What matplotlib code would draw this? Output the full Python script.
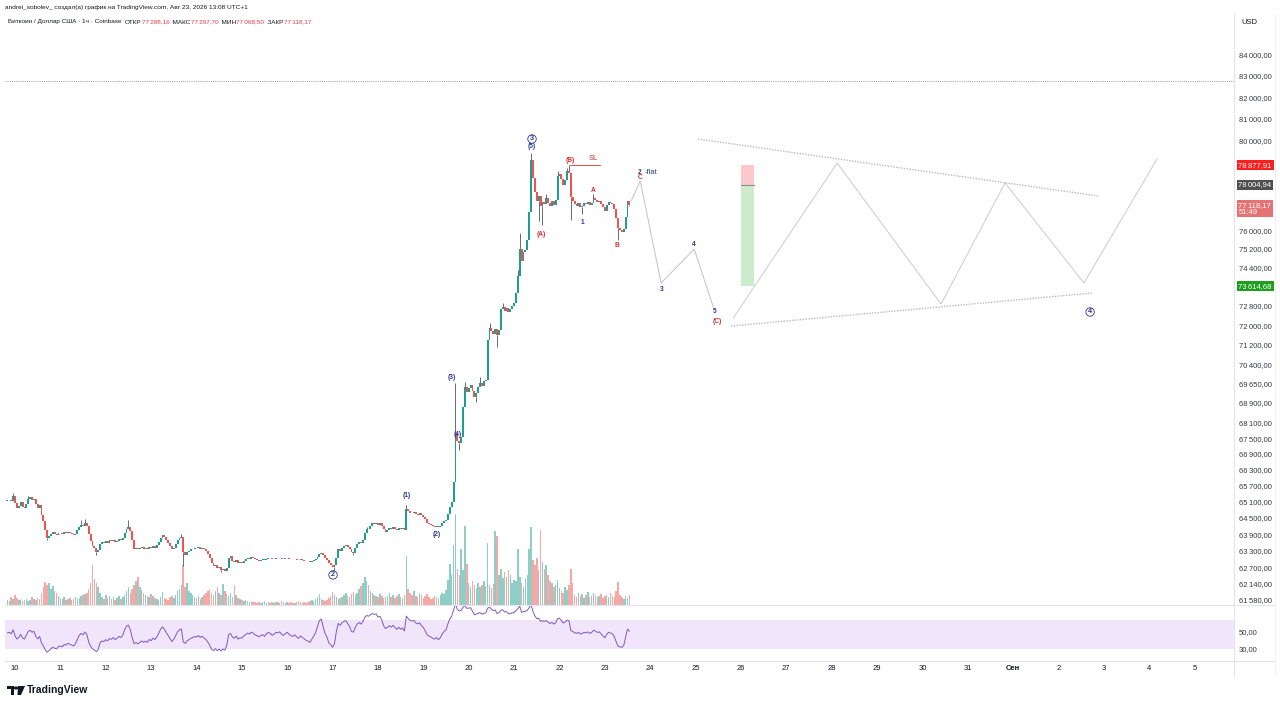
import matplotlib
matplotlib.use('Agg')
import matplotlib.pyplot as plt
import matplotlib.transforms as mtransforms
from matplotlib.lines import Line2D
from matplotlib.patches import Polygon, Circle
from matplotlib.ticker import FixedLocator, FixedFormatter, NullLocator
import numpy as np

plt.rcParams['font.family'] = ['Liberation Sans', 'DejaVu Sans']

W, H = 1280, 706

# ---- hourly BTC/USD candles, first one is Aug 9 20:00 ----
first_hour = -4          # hours from Aug 10 00:00
first_open = 65120.0
closes = [
    65150, 65180, 65120, 65300,                                   # Aug 9
    65050, 64880, 64950, 65080, 64900, 64850, 65020, 65200, 65260, 65180, 65220, 65000,
    64880, 64980, 64620, 64380, 64050, 63780, 63850, 63920, 63980, 63900, 63860, 63940,   # Aug 10
    63960, 63900, 63980, 63940, 64000, 63950, 63900, 63860, 63920, 64050, 64180, 64250,
    64200, 64300, 64220, 63900, 63650, 63480, 63400, 63250, 63320, 63550, 63620, 63580,   # Aug 11
    63650, 63600, 63680, 63640, 63700, 63620, 63660, 63720, 63680, 63750, 63950, 64100,
    64150, 64020, 63700, 63380, 63420, 63350, 63400, 63450, 63380, 63420, 63360, 63450,   # Aug 12
    63400, 63480, 63420, 63500, 63620, 63780, 63880, 63820, 63700, 63600, 63480, 63350,
    63420, 63550, 63700, 63780, 63820, 63250, 63150, 63250, 63300, 63350, 63380, 63420,   # Aug 13
    63400, 63450, 63380, 63420, 63350, 63300, 63200, 63050, 62850, 62750, 62800, 62680,
    62720, 62600, 62650, 62580, 62700, 63050, 63100, 62950, 62900, 62980, 62850, 62900,   # Aug 14
    62880, 62950, 63000, 63050, 63020, 63080, 63050, 63000, 62980, 62950, 62980, 63000,
    62960, 63020, 63050, 63030, 62990, 63010, 63050, 63040, 63060, 63020, 63000, 63030,   # Aug 15
    63050, 63020, 63000, 62990, 63010, 62980, 62960, 62990, 62970, 62950, 62930, 62920,
    62900, 62930, 62960, 63000, 63080, 63200, 63240, 63150, 63050, 62980, 62850, 62800,   # Aug 16
    62720, 62780, 63050, 63350, 63300, 63420, 63480, 63520, 63450, 63380, 63250, 63230,
    63400, 63550, 63620, 63580, 63700, 63950, 64100, 64080, 64200, 64300, 64280, 64320,   # Aug 17
    64250, 64300, 64220, 64080, 64000, 64050, 64120, 64080, 64150, 64100, 64050, 64130,
    64080, 64120, 64050, 64830, 64750, 64700, 64680, 64720, 64650, 64620, 64680, 64600,   # Aug 18
    64550, 64450, 64320, 64280, 64250, 64200, 64180, 64220, 64150, 64200, 64300, 64380,
    64420, 64650, 64900, 65100, 65850, 67700, 67400, 67300, 67550, 68700, 69500, 69300,   # Aug 19
    69450, 69600, 69350, 69100, 69250, 69500, 69650, 69550, 69750, 69800, 71400, 71900,
    71750, 71650, 71850, 71600, 71800, 72650, 72750, 72600, 72700, 72550, 72650, 72800,   # Aug 20
    72900, 73350, 74050, 75200, 74700, 75050, 75150, 75600, 76800, 79100, 78300, 77700,
    77300, 77500, 77050, 77250, 77150, 77400, 77200, 77050, 77300, 77100, 77350, 78400,   # Aug 21
    78500, 78250, 78000, 78200, 78600, 78550, 77450, 77300, 77150, 77050, 77200, 77000,
    77050, 77200, 77150, 77250, 77100, 77200, 77420, 77350, 77250, 77300, 77150, 77000,   # Aug 22
    76850, 77100, 77250, 77200, 77150, 76950, 76550, 76100, 76000, 75950, 76050, 76600,
    77288.16, 77118.17,                                           # Aug 23
]
# wicks that stick out of the bodies (candle index -> price)
highs = {3: 65420, 11: 65300, 39: 64420, 41: 64450, 64: 64430, 92: 63900, 190: 64150,
         211: 64980, 237: 69650, 242: 69700, 250: 69900, 255: 72100, 262: 72900,
         270: 74300, 271: 75900, 277: 79450, 285: 77600, 291: 78600, 296: 78750,
         297: 78900, 310: 77600, 329: 77297.70}
lows = {21: 63700, 47: 63150, 93: 62750, 113: 62550, 173: 62600, 183: 63150, 239: 67050,
        248: 68900, 259: 71120, 281: 76400, 283: 76250, 298: 76450, 304: 76700,
        323: 75600, 329: 77068.50}
volume = [
    5, 4, 8, 6, 10, 7, 5, 6, 4, 5, 6, 4, 5, 8, 6, 5, 7, 6,
    12, 18, 23, 20, 22, 16, 19, 14, 12,
    9, 7, 6, 8, 5, 6, 7, 5, 6, 8, 6, 7, 9, 10, 11,
    12, 16, 22, 40, 26, 22, 18, 12,
    8, 6, 10, 7, 9, 6, 8, 5, 7, 9, 6, 8, 10, 14,
    18, 12, 16, 20, 24, 28, 18, 15, 12, 10, 9, 8, 11, 9, 7,
    6, 5, 8, 13, 7, 6, 5, 8, 9, 7,
    10, 14, 16, 20, 40, 18, 22, 14, 12, 10, 8, 7, 9, 6,
    8, 10, 12, 14, 16, 12, 10, 14, 18, 12, 10, 21, 14, 11, 9, 12, 8, 20, 10, 7, 6, 5, 4, 5, 4, 3, 4, 3,
    3, 2, 3, 2, 3, 4, 2, 3, 2, 3, 2, 3, 3, 2, 4, 3, 2, 3, 2, 3, 2, 2, 3, 4, 3, 2, 3, 2, 3, 4, 5, 4, 6, 8, 11,
    6, 5, 4, 5, 7, 9, 13, 10, 8, 6,
    7, 8, 10, 12, 9, 8, 11, 13, 10, 12, 16, 19, 22, 28, 24, 20, 14, 12, 10, 9, 8, 11, 9, 7, 8,
    9, 12, 8, 10, 7, 9, 11, 8, 7, 10,
    49,
    16, 12, 10, 14, 9, 8, 12, 10, 7, 9, 11, 8, 6, 7, 9, 8, 7, 10, 12, 11, 15,
    25, 41, 30, 60, 91, 36, 30, 56, 35, 79, 41,
    22, 18, 24, 20, 17, 22, 18, 20, 24, 19,
    62, 20, 17, 21, 74, 69,
    30, 36, 27, 33, 28, 35, 30, 22, 25, 24,
    56, 28, 22, 18, 26, 30, 56, 78, 45, 40, 47, 35, 75, 43, 36, 40, 30, 24, 22, 18, 20, 25, 17,
    14, 12, 18, 15, 20, 36, 22,
    10, 8, 12, 9, 11, 7, 10, 13, 8, 9, 12, 10, 8, 9, 11, 7, 9, 10, 8, 12, 9, 8,
    14, 23, 10, 8, 6, 9, 7, 10,
]

price_ticks = [84000, 83000, 82000, 81000, 80000, 79000, 76000, 75200, 74400, 72800, 72000,
               71200, 70400, 69650, 68900, 68100, 67500, 66900, 66300, 65700, 65100, 64500,
               63900, 63300, 62700, 62140, 61580]
day_ticks = list(range(10, 32)) + [32, 33, 34, 35, 36]
day_labels = [str(d) for d in range(10, 32)] + ['Сен', '2', '3', '4', '5']

# short position tool
stop_price = 78877.91
entry_price = 78004.94
target_price = 73614.68
box_days = [26.00, 26.29]
countdown = '51:49'
marker_level = 82763
sl_days = [22.23, 22.89]

# projected paths (day of August, price)
wave_days = [23.58, 23.78, 24.24, 24.97, 25.39]
wave_prices = [77288, 78173, 73754, 75198, 72750]
tri_days = [25.83, 28.12, 30.41, 31.82, 33.56, 35.17]
tri_prices = [72295, 78979, 72875, 78084, 73754, 79160]
upper_days = [25.05, 33.87]
upper_prices = [80069, 77507]
lower_days = [25.78, 33.74]
lower_prices = [71965, 73334]

# Elliott wave labels: text, day, price, colour key, circled
wave_labels = [
    ('3', 21.395, 80069, 'b', True), ('(5)', 21.395, 79705, 'b', False),
    ('(B)', 22.233, 79115, 'r', False), ('(A)', 21.594, 75844, 'r', False),
    ('1', 22.497, 76322, 'b', False), ('A', 22.740, 77772, 'r', False),
    ('B', 23.269, 75327, 'r', False), ('2', 23.776, 78575, 'b', False),
    ('C', 23.776, 78307, 'r', False), ('3', 24.26, 73501, 'b', False),
    ('4', 24.966, 75370, 'b', False), ('5', 25.43, 72543, 'b', False),
    ('(C)', 25.473, 72171, 'r', False), ('4', 33.694, 72543, 'b', True),
    ('(3)', 19.632, 69862, 'b', False), ('(4)', 19.764, 67665, 'b', False),
    ('(1)', 18.64, 65314, 'b', False), ('(2)', 19.301, 63878, 'b', False),
    ('2', 17.009, 62437, 'b', True),
]

UP, DOWN = '#1f9e8f', '#ef5350'
BLUE, RED, DARK = '#2a3a8f', '#d32f2f', '#131722'


def hours(day):
    return (np.asarray(day, dtype=float) - 10) * 24


def fmt(v):
    return f'{v:,.2f}'.replace(',', '\u2009').replace('.', ',')


def fx(px):
    return px / W


def fy(py):
    return 1 - py / H


n = len(closes)
t = np.arange(n) + first_hour
opens = [first_open] + closes[:-1]
body_top = [max(opens[i], closes[i]) for i in range(n)]
body_lo = [min(opens[i], closes[i]) for i in range(n)]
hi = [highs.get(i, body_top[i]) for i in range(n)]
lo = [lows.get(i, body_lo[i]) for i in range(n)]
up = [closes[i] >= opens[i] for i in range(n)]
body_h = [max(body_top[i] - body_lo[i], 10) for i in range(n)]
cols = [UP if u else DOWN for u in up]

# RSI 14 (Wilder), seeded with the mean of the first 14 moves
diff = np.diff(np.array(closes, dtype=float))
gains = np.clip(diff, 0, None)
losses = np.clip(-diff, 0, None)
ag, al = gains[:14].mean(), losses[:14].mean()
rsi = [100 - 100 / (1 + ag / al)]
for g, l in zip(gains, losses):
    ag = (ag * 13 + g) / 14
    al = (al * 13 + l) / 14
    rsi.append(100 - 100 / (1 + ag / al))

fig = plt.figure(figsize=(W / 100, H / 100), dpi=100)
price_rect = [fx(5), fy(605), fx(1234) - fx(5), fy(14) - fy(605)]
rsi_rect = [fx(5), fy(661), fx(1234) - fx(5), fy(605) - fy(661)]

ax_vol = fig.add_axes(price_rect)
ax = fig.add_axes(price_rect, sharex=ax_vol)
ax.patch.set_alpha(0)
ax_rsi = fig.add_axes(rsi_rect, sharex=ax_vol)

ax_vol.set_xlim(-5.29, 644.8)

# volume
ax_vol.bar(t, volume, width=0.8, color=cols, alpha=0.5, linewidth=0)
ax_vol.set_ylim(0, max(volume) / 0.154)
ax_vol.set_axis_off()

# candles: wicks only outside the body, then bodies
ax.vlines(t, body_top, hi, color='#50535c', linewidth=0.6, zorder=2)
ax.vlines(t, lo, body_lo, color='#50535c', linewidth=0.6, zorder=2)
ax.bar(t, body_h, bottom=body_lo, width=1.0, color=cols, linewidth=0, zorder=3)
ax.set_yscale('log')
ax.set_ylim(61375, 85988)
ax.yaxis.set_major_locator(FixedLocator(price_ticks))
ax.yaxis.set_major_formatter(FixedFormatter([fmt(p) for p in price_ticks]))
ax.yaxis.set_minor_locator(NullLocator())
ax.yaxis.tick_right()
ax.tick_params(axis='y', length=0, pad=3.6, labelsize=5.5, labelcolor='#363a45')
ax.tick_params(axis='x', bottom=False, labelbottom=False)
for s in ax.spines.values():
    s.set_visible(False)

ax.axhline(marker_level, color='#9598a1', linewidth=0.7, linestyle=(0, (1, 1.2)))

# projections
ax.plot(hours(wave_days), wave_prices, color='#bfc2c9', linewidth=0.7)
ax.plot(hours(tri_days), tri_prices, color='#c8cbd1', linewidth=0.7)
ax.plot(hours(upper_days), upper_prices, color='#b8bbc3', linewidth=1.0, linestyle=(0, (1, 1)))
ax.plot(hours(lower_days), lower_prices, color='#b8bbc3', linewidth=1.0, linestyle=(0, (1, 1)))

# position box
bx = hours(box_days)
ax.fill_between(bx, entry_price, stop_price, color='#fbc9cc', linewidth=0)
ax.fill_between(bx, target_price, entry_price, color='#cdeccd', linewidth=0)
ax.plot(bx, [entry_price] * 2, color='#8a8d96', linewidth=0.8)

# stop loss line
ax.plot(hours(sl_days), [stop_price] * 2, color=RED, linewidth=0.6)
ax.text(hours(22.74), 79200, 'SL', color=RED, fontsize=5.5, ha='center', va='center')
ax.text(hours(23.886), 78575, '-flat', color=BLUE, fontsize=5.5, ha='left', va='center')

for txt, d, p, ck, circ in wave_labels:
    col = BLUE if ck == 'b' else RED
    kw = {}
    size = 4.8
    if circ:
        kw['bbox'] = dict(boxstyle='circle,pad=0.1', fc='white', ec=col, lw=0.6)
        size = 5.2
    ax.text(hours(d), p, txt, color=col, fontsize=size, fontweight='bold',
            ha='center', va='center', zorder=5, **kw)

# price-axis badges
blend = mtransforms.blended_transform_factory(fig.transFigure, ax.transData)
badges = [(stop_price, fmt(stop_price), '#ff1e1e'),
          (entry_price, fmt(entry_price), '#4f4f4f'),
          (76950, fmt(closes[-1]) + '\n' + countdown, '#e57373'),
          (target_price, fmt(target_price), '#1e9e1e')]
for p, s, c in badges:
    ax.text(fx(1238.5), p, s, transform=blend, color='white', fontsize=5.5, ha='left',
            va='center', linespacing=1.0, zorder=6,
            bbox=dict(boxstyle='square,pad=0.22', fc=c, ec='none'))

# RSI pane
ax_rsi.axhspan(30, 70, color='#f1e5fb', linewidth=0)
ax_rsi.plot(t, rsi, color='#7e57c2', linewidth=0.7)
ax_rsi.set_ylim(13.4, 90.7)
ax_rsi.yaxis.tick_right()
ax_rsi.set_yticks([54, 31])
ax_rsi.set_yticklabels(['50,00', '30,00'])
ax_rsi.tick_params(axis='y', length=0, pad=3.6, labelsize=5.5, labelcolor='#363a45')
ax_rsi.set_xticks(hours(day_ticks))
ax_rsi.set_xticklabels(day_labels)
ax_rsi.tick_params(axis='x', length=0, pad=3, labelsize=5.5, labelcolor=DARK)
for lbl in ax_rsi.get_xticklabels():
    if lbl.get_text() == 'Сен':
        lbl.set_fontweight('bold')
for s in ax_rsi.spines.values():
    s.set_visible(False)

# pane separators
sep = '#e3e5ea'
for y in (605, 661):
    fig.add_artist(Line2D([fx(5), fx(1275)], [fy(y), fy(y)], color=sep, linewidth=0.8))
fig.add_artist(Line2D([fx(1234), fx(1234)], [fy(14), fy(676)], color=sep, linewidth=0.8))
fig.add_artist(Line2D([fx(1275), fx(1275)], [fy(14), fy(676)], color='#f0f1f4', linewidth=0.8))

# header
fig.text(fx(5), fy(8), 'andrei_sobolev_ создал(а) график на TradingView.com, Авг 23, 2026 13:08 UTC+1',
         fontsize=4.65, color=DARK, va='center')
parts = [('ОТКР', DARK), (fmt(closes[-2]), '#f23645'), ('  МАКС', DARK), (fmt(highs[n - 1]), '#f23645'),
         ('  МИН', DARK), (fmt(lows[n - 1]), '#f23645'), ('  ЗАКР', DARK), (fmt(closes[-1]), '#f23645')]
prev = fig.text(fx(8), fy(22), 'Биткоин / Доллар США · 1ч · Coinbase  ', fontsize=4.6, color=DARK, va='center')
for s, c in parts:
    prev = ax.annotate(s, xy=(1, 0), xycoords=prev, fontsize=4.6, color=c, va='bottom', ha='left',
                       annotation_clip=False)
fig.text(fx(1241), fy(22), 'USD', fontsize=5.5, color=DARK, va='center')

# TradingView logo
logo = [Polygon([(fx(7), fy(686)), (fx(14), fy(686)), (fx(14), fy(695)), (fx(11), fy(695)),
                 (fx(11), fy(689)), (fx(7), fy(689))], closed=True),
        Polygon([(fx(18), fy(686)), (fx(25), fy(686)), (fx(21), fy(695)), (fx(17.5), fy(695))], closed=True)]
for pg in logo:
    pg.set_facecolor(DARK)
    pg.set_edgecolor('none')
    pg.set_transform(fig.transFigure)
    fig.add_artist(pg)
fig.add_artist(Circle((fx(16), fy(688)), 1.6 / W, transform=fig.transFigure, color=DARK))
fig.text(fx(27), fy(690), 'TradingView', fontsize=7.5, fontweight='bold', color=DARK, va='center')

fig.savefig('out.png', dpi=100, facecolor='white')
